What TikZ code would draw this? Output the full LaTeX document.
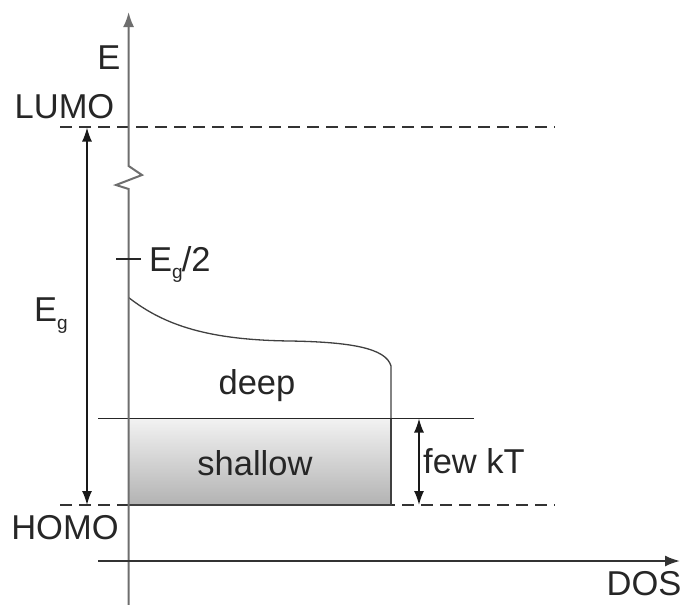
\documentclass[tikz,border=0pt]{standalone}
\usepackage{fontspec}
\setmainfont{Liberation Sans}
\usetikzlibrary{arrows.meta}
\definecolor{axisgray}{HTML}{6E6E6E}
\begin{document}
\begin{tikzpicture}[x=1pt,y=-1pt,
  lbl/.style={inner sep=0pt,anchor=base,font=\fontsize{34.5}{40}\selectfont,text=black!85},
  axisline/.style={draw=axisgray,line width=2pt},
  level/.style={draw=black!80,line width=1.7pt,dash pattern=on 12pt off 7pt},
  solidline/.style={draw=black!85,line width=1.7pt},
  dimarrow/.style={draw=black!90,line width=1.7pt,{Latex[length=14pt,width=10pt]}-{Latex[length=14pt,width=10pt]}},
  tip/.style={-{Latex[length=15pt,width=11pt]}}
]
\useasboundingbox (0,0) rectangle (683,605);
% coordinates
\coordinate (ybot) at (128.6,605);
\coordinate (ytop) at (128.6,12);
\coordinate (zz1) at (128.6,189);
\coordinate (zz2) at (116,185);
\coordinate (zz3) at (142,175);
\coordinate (zz4) at (128.6,166);
\coordinate (xl) at (98,561);
\coordinate (xr) at (680,561);
\coordinate (lumoL) at (60,127);
\coordinate (lumoR) at (555,127);
\coordinate (homoL) at (60,505);
\coordinate (homoR) at (555,505);
\coordinate (boxTL) at (128.6,418.5);
\coordinate (boxBR) at (391,505);
\coordinate (shL) at (98,418.5);
\coordinate (shR) at (474,418.5);
\coordinate (egT) at (87,127.5);
\coordinate (egB) at (87,505);
\coordinate (ktT) at (419,418.5);
\coordinate (ktB) at (419,505);
\coordinate (tickL) at (116,259);
\coordinate (tickR) at (141,259);
\coordinate (c0) at (128.6,297.5);
\coordinate (c1) at (290,341);
\coordinate (c2) at (391,366);
% shallow box
\shade[top color=black!5,bottom color=black!30] (boxTL) rectangle (boxBR);
% dashed levels
\draw[level] (lumoL) -- (lumoR);
\draw[level] (homoL) -- (homoR);
\draw[draw=black!75,line width=1.7pt] (boxTL) rectangle (boxBR);
% deep DOS curve
\draw[draw=black!75,line width=1.3pt] (c0) .. controls (165,326) and (210,340) .. (c1)
  .. controls (350,342) and (386,348) .. (c2) -- (boxBR|-boxTL);
% shallow/deep separator
\draw[solidline] (shL) -- (shR);
% axes
\draw[axisline,tip] (ybot) -- (zz1) -- (zz2) -- (zz3) -- (zz4) -- (ytop);
\draw[axisline,draw=black!80,tip] (xl) -- (xr);
% tick
\draw[solidline,line width=1.5pt] (tickL) -- (tickR);
% dimension arrows
\draw[dimarrow] (egT) -- (egB);
\draw[dimarrow] (ktT) -- (ktB);
% labels
\node[lbl] (E) at (109,69) {E};
\node[lbl] (lumo) at (64.5,118) {LUMO};
\node[lbl] (homo) at (65,539) {HOMO};
\node[lbl] (dos) at (644,595) {DOS};
\node[lbl] (deep) at (257,394) {deep};
\node[lbl] (shallow) at (255,475) {shallow};
\node[lbl,anchor=base west] (fewkt) at (423,473) {few kT};
\node[lbl,anchor=base west] (eg2) at (149,271) {E\raisebox{-7pt}{\fontsize{19}{22}\selectfont g}\kern-1pt/2};
\node[lbl,anchor=base west] (eg) at (34,321) {E\raisebox{-8pt}{\fontsize{19}{22}\selectfont g}};
\end{tikzpicture}
\end{document}
